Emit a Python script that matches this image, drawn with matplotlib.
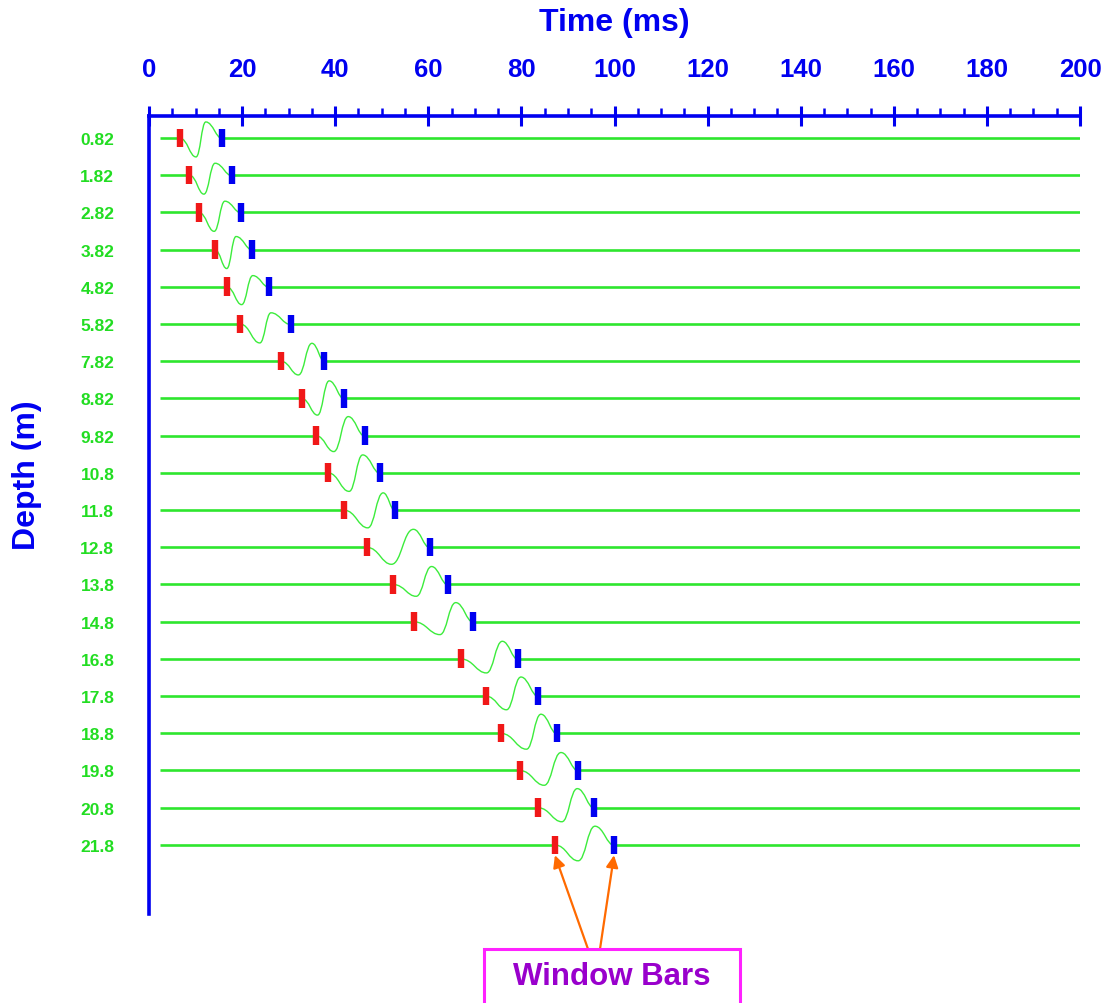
import matplotlib
matplotlib.use('Agg')
import matplotlib.pyplot as plt
from matplotlib.path import Path
from matplotlib.patches import PathPatch, Rectangle
from matplotlib.ticker import MultipleLocator

plt.rcParams['font.family'] = ['Liberation Sans', 'DejaVu Sans']

# ---- data ----
depth_labels = ['0.82', '1.82', '2.82', '3.82', '4.82', '5.82', '7.82', '8.82', '9.82',
                '10.8', '11.8', '12.8', '13.8', '14.8', '16.8', '17.8', '18.8', '19.8',
                '20.8', '21.8']
win_start = [6.6, 8.7, 10.7, 14.1, 16.7, 19.6, 28.4, 32.8, 35.9, 38.5, 41.9, 46.8, 52.5,
             56.9, 67.0, 72.4, 75.6, 79.7, 83.6, 87.2]
win_end = [15.7, 17.8, 19.8, 22.2, 25.8, 30.4, 37.7, 41.9, 46.3, 49.6, 52.8, 60.3, 64.2,
           69.6, 79.2, 83.6, 87.6, 92.2, 95.6, 99.9]
trough_time = [10.1, 11.8, 14.0, 16.7, 19.9, 23.8, 32.1, 36.2, 39.7, 43.0, 47.0, 52.1, 57.4,
               62.5, 72.5, 76.8, 81.1, 84.9, 88.7, 92.2]
peak_time = [12.2, 14.2, 16.3, 18.7, 22.3, 26.2, 35.0, 38.7, 42.8, 45.9, 50.3, 56.8, 60.7,
             65.9, 75.9, 79.9, 84.2, 88.5, 92.0, 95.8]
trough_amp = [-0.51, -0.51, -0.51, -0.51, -0.48, -0.51, -0.37, -0.45, -0.43, -0.50, -0.48,
              -0.46, -0.32, -0.35, -0.38, -0.37, -0.43, -0.40, -0.38, -0.43]
peak_amp = [0.43, 0.32, 0.30, 0.35, 0.30, 0.30, 0.48, 0.47, 0.51, 0.48, 0.46, 0.48, 0.48,
            0.51, 0.47, 0.51, 0.51, 0.48, 0.51, 0.50]
trace_start, trace_end = 2.3, 200.0
x_ticks = list(range(0, 201, 20))

BLUE = '#0000f0'
GREEN = '#2ee62e'
WAVE_GREEN = '#3cec3c'
LABEL_GREEN = '#22dd22'
RED = '#f01818'

fig = plt.figure(figsize=(11.11, 10.04), dpi=100)
ax = fig.add_axes([149 / 1111, 1 - 915 / 1004, (1080 - 149) / 1111, (915 - 117) / 1004])
ax.set_xlim(0, 200)
ax.set_ylim(20.86, -0.59)

for r in range(len(depth_labels)):
    s, e = win_start[r], win_end[r]
    tt, pt = trough_time[r], peak_time[r]
    ty, py = r - trough_amp[r], r - peak_amp[r]
    # baseline outside the window
    ax.plot([trace_start, s], [r, r], color=GREEN, lw=1.9, solid_capstyle='butt', zorder=2)
    ax.plot([e, trace_end], [r, r], color=GREEN, lw=1.9, solid_capstyle='butt', zorder=2)
    # wavelet inside window
    verts = [(s, r),
             (s + 0.5 * (tt - s), r + 0.02), (tt - 0.4 * (tt - s), ty), (tt, ty),
             (tt + 0.45 * (pt - tt), ty), (pt - 0.45 * (pt - tt), py), (pt, py),
             (pt + 0.45 * (e - pt), py), (e - 0.35 * (e - pt), r + 0.05), (e, r)]
    codes = [Path.MOVETO] + [Path.CURVE4] * 9
    ax.add_patch(PathPatch(Path(verts, codes), facecolor='none', edgecolor=WAVE_GREEN,
                           lw=1.0, zorder=2))

rows = list(range(len(depth_labels)))
ax.vlines(win_start, [r - 0.25 for r in rows], [r + 0.25 for r in rows], color=RED,
          lw=4.6, zorder=3)
ax.vlines(win_end, [r - 0.25 for r in rows], [r + 0.25 for r in rows], color=BLUE,
          lw=4.6, zorder=3)

# axes styling
for side in ['right', 'bottom']:
    ax.spines[side].set_visible(False)
for side in ['top', 'left']:
    ax.spines[side].set_color(BLUE)
    ax.spines[side].set_linewidth(2.6)

ax.xaxis.tick_top()
ax.set_xticks(x_ticks)
ax.xaxis.set_minor_locator(MultipleLocator(5))
ax.tick_params(axis='x', which='major', direction='inout', length=14, width=2.2,
               color=BLUE, labelcolor=BLUE, labelsize=18.5, pad=18)
ax.tick_params(axis='x', which='minor', direction='out', length=5.5, width=1.8, color=BLUE)
for lab in ax.get_xticklabels():
    lab.set_fontweight('bold')

ax.set_yticks(rows)
ax.set_yticklabels(depth_labels)
ax.tick_params(axis='y', length=0, pad=25, labelcolor=LABEL_GREEN, labelsize=12.5)
for lab in ax.get_yticklabels():
    lab.set_fontweight('bold')

fig.text(614 / 1111, 1 - 23 / 1004, 'Time (ms)', color=BLUE, fontsize=23,
         fontweight='bold', ha='center', va='center')
fig.text(27 / 1111, 1 - 475 / 1004, 'Depth (m)', color=BLUE, fontsize=23,
         fontweight='bold', ha='center', va='center', rotation=90)

# annotation box
box = Rectangle((484, -10), 256, 64, transform=None, facecolor='white',
                edgecolor='#ff22ff', lw=2.2, clip_on=False, zorder=5)
fig.patches.append(box)
fig.text(612 / 1111, 1 - 977 / 1004, 'Window Bars', color='#9900cc', fontsize=22.5,
         fontweight='bold', ha='center', va='center', zorder=6)

last = len(depth_labels) - 1
ax.annotate('', xy=(win_start[last], last + 0.28), xytext=(588, 54),
            textcoords='figure pixels',
            arrowprops=dict(arrowstyle='-|>', color='#ff6a00', lw=1.6,
                            mutation_scale=18, shrinkA=0, shrinkB=0))
ax.annotate('', xy=(win_end[last], last + 0.28), xytext=(600, 54),
            textcoords='figure pixels',
            arrowprops=dict(arrowstyle='-|>', color='#ff6a00', lw=1.6,
                            mutation_scale=18, shrinkA=0, shrinkB=0))

fig.savefig('out.png', dpi=100)
